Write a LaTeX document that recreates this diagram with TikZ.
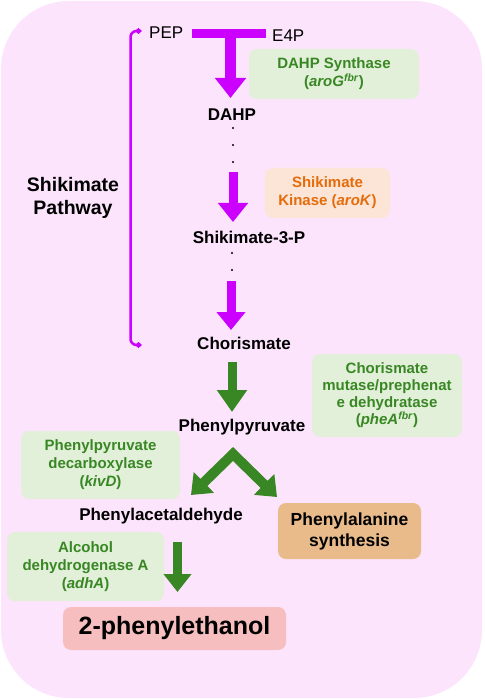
\documentclass[tikz,border=0pt]{standalone}
\usepackage{fontspec}
\setmainfont{Liberation Sans}
\usetikzlibrary{arrows.meta}
\definecolor{bgpink}{RGB}{252,228,252}
\definecolor{mag}{RGB}{204,0,255}
\definecolor{dgreen}{RGB}{56,135,36}
\definecolor{lgreen}{RGB}{226,240,217}
\definecolor{peach}{RGB}{252,228,214}
\definecolor{orangetxt}{RGB}{228,108,10}
\definecolor{tan}{RGB}{233,187,139}
\definecolor{pinkbox}{RGB}{246,190,190}
\tikzset{
  lbl/.style={font=\fontsize{17}{20}\selectfont\bfseries, inner sep=0pt},
  plain/.style={font=\fontsize{17}{20}\selectfont, inner sep=0pt},
  boxbase/.style={rounded corners=8pt, align=center, inner sep=0pt, font=\fontsize{15}{18}\selectfont\bfseries},
  enz/.style={boxbase, fill=lgreen, text=dgreen},
  kin/.style={boxbase, fill=peach, text=orangetxt},
  dotlbl/.style={circle, fill=black, inner sep=0pt, minimum size=2.2pt},
  magarrow/.style={draw=mag, line width=#1},
  grarrow/.style={draw=dgreen, line width=#1},
}
\begin{document}
\begin{tikzpicture}[x=1pt,y=-1pt]
\useasboundingbox (0,0) rectangle (484,700);
% background
\fill[bgpink, rounded corners=68pt] (1,1) rectangle (482,698);

% metabolites
\node[plain, anchor=west] (PEP) at (149,33) {PEP};
\node[plain, anchor=west] (E4P) at (272,36) {E4P};
\node[lbl] (DAHP) at (232,115) {DAHP};
\node[lbl] (S3P) at (249,237) {Shikimate-3-P};
\node[lbl] (CHO) at (244,343) {Chorismate};
\node[lbl] (PPY) at (242,427) {Phenylpyruvate};
\node[lbl] (PAA) at (161,516) {Phenylacetaldehyde};
\node[font=\fontsize{19.5}{22.5}\selectfont\bfseries, align=center, inner sep=0pt] (SP) at (73,198) {Shikimate\\Pathway};

% dots
\node[dotlbl] (d1) at (233,128) {};
\node[dotlbl] (d2) at (233,145) {};
\node[dotlbl] (d3) at (233,162) {};
\node[dotlbl] (d4) at (232,253) {};
\node[dotlbl] (d5) at (232,270) {};

% enzyme boxes
\node[enz, minimum width=170pt, minimum height=50pt] (DS) at (334,74)
  {DAHP Synthase\\(\textit{aroG}\textsuperscript{\textit{fbr}})};
\node[kin, minimum width=125pt, minimum height=50pt] (SK) at (327.5,193)
  {Shikimate\\Kinase (\textit{aroK})};
\node[enz, minimum width=150pt, minimum height=83pt, font=\fontsize{15}{17}\selectfont\bfseries] (CM) at (387,395.5)
  {Chorismate\\mutase/prephenat\\e dehydratase\\(\textit{pheA}\textsuperscript{\textit{fbr}})};
\node[enz, minimum width=159pt, minimum height=68pt] (PD) at (100.5,465)
  {Phenylpyruvate\\decarboxylase\\(\textit{kivD})};
\node[boxbase, fill=tan, text=black, minimum width=143pt, minimum height=56pt, font=\fontsize{17.5}{21}\selectfont\bfseries] (PHE) at (349.5,531)
  {Phenylalanine\\synthesis};
\node[enz, minimum width=157pt, minimum height=69pt] (AD) at (85.5,566.5)
  {Alcohol\\dehydrogenase A\\(\textit{adhA})};
\node[boxbase, fill=pinkbox, text=black, minimum width=223pt, minimum height=43pt, font=\fontsize{25}{28}\selectfont\bfseries] (PE) at (174.5,628.5)
  {2-phenylethanol};

% connector coordinates
\coordinate (barL) at (192,33.5);
\coordinate (barR) at (266,33.5);
\coordinate (barM) at (230.5,29);
\coordinate (a1e) at (230.5,98);
\coordinate (a2s) at (233,172);
\coordinate (a2e) at (233,222);
\coordinate (a3s) at (231,281);
\coordinate (a3e) at (231,330);
\coordinate (g1s) at (232,362);
\coordinate (g1e) at (232,412);
\coordinate (apex) at (233,454);
\coordinate (lt) at (191,495);
\coordinate (rt) at (277,497);
\coordinate (g3s) at (177.5,542);
\coordinate (g3e) at (177.5,592);
\coordinate (bt) at (142,31);
\coordinate (bb) at (142,345);

% magenta arrows
\draw[magarrow=9pt] (barL) -- (barR);
\draw[magarrow=11pt, -{Triangle[width=30pt,length=20pt]}] (barM) -- (a1e);
\draw[magarrow=9pt, -{Triangle[width=29pt,length=19pt]}] (a2s) -- (a2e);
\draw[magarrow=9pt, -{Triangle[width=28pt,length=18pt]}] (a3s) -- (a3e);

% bracket
\draw[mag, line width=2.5pt, rounded corners=6pt, {Diamond[width=6pt,length=7pt]}-{Diamond[width=6pt,length=7pt]}]
  (bt) -- (130.5,31) -- (130.5,345) -- (bb);

% green arrows
\draw[grarrow=9pt, -{Triangle[width=29pt,length=22pt]}] (g1s) -- (g1e);
\draw[grarrow=10pt, line join=miter, {Triangle[width=28pt,length=18pt]}-{Triangle[width=28pt,length=18pt]}] (lt) -- (apex) -- (rt);
\draw[grarrow=9pt, -{Triangle[width=27pt,length=18pt]}] (g3s) -- (g3e);
\end{tikzpicture}
\end{document}
